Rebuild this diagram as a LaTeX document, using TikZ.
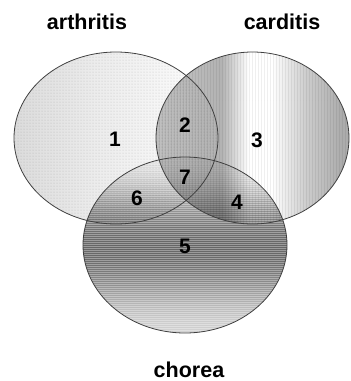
\documentclass[tikz,border=0pt]{standalone}
\usepackage{fontspec}
\setmainfont{Liberation Sans}
\usetikzlibrary{patterns}
\pgfdeclarehorizontalshading{ashade}{100bp}{color(0bp)=(gray!28); color(25bp)=(gray!28); color(45bp)=(gray!15); color(70bp)=(gray!3); color(75bp)=(white); color(100bp)=(white)}
\pgfdeclarehorizontalshading{cshade}{100bp}{color(0bp)=(gray!45); color(26bp)=(gray!45); color(36bp)=(gray!55); color(42bp)=(gray!60); color(49bp)=(white); color(55bp)=(white); color(64bp)=(gray!40); color(73bp)=(gray!65); color(100bp)=(gray!65)}
\begin{document}
\begin{tikzpicture}[x=1pt,y=-1pt,
  outline/.style={draw=black!75,line width=0.8pt},
  lab/.style={font=\fontsize{21.5}{24}\selectfont\bfseries,inner sep=0pt},
  num/.style={font=\fontsize{21}{24}\selectfont\bfseries,inner sep=0pt}]
\useasboundingbox (0,0) rectangle (351,381);
\def\ellA{(116,138) ellipse [x radius=102,y radius=86]}
\def\ellC{(252.5,138) ellipse [x radius=96.5,y radius=86]}
\def\ellH{(185,245) ellipse [x radius=102,y radius=88]}
\begin{scope}[blend group=multiply]
  \shade[shading=ashade] \ellA;
  \fill[pattern=dots,pattern color=gray!40] \ellA;
  \shade[shading=cshade] \ellC;
  \fill[pattern=vertical lines,pattern color=gray!35] \ellC;
  \begin{scope}
    \clip \ellH;
    \foreach \i in {0,...,88} {
      \pgfmathsetmacro\yy{157+2*\i}
      \pgfmathsetmacro\tt{\i/88}
      \pgfmathtruncatemacro\ga{6+46*sin(180*\tt)^2+12*\tt}
      \pgfmathtruncatemacro\gb{0.6*\ga}
      \fill[black!\ga] (80,\yy) rectangle (290,\yy+1.1);
      \fill[black!\gb] (80,\yy+1.1) rectangle (290,\yy+2);
    }
  \end{scope}
\end{scope}
\draw[outline] \ellA;
\draw[outline] \ellC;
\draw[outline] \ellH;
\node[lab] (arthritis) at (87,22) {arthritis};
\node[lab] (carditis) at (282,22) {carditis};
\node[lab] (chorea) at (189,370) {chorea};
\node[num] (n1) at (115,139) {1};
\node[num] (n2) at (185,125) {2};
\node[num] (n3) at (257,140) {3};
\node[num] (n4) at (237,202) {4};
\node[num] (n5) at (185,246) {5};
\node[num] (n6) at (137,198) {6};
\node[num] (n7) at (185,177) {7};
\end{tikzpicture}
\end{document}
